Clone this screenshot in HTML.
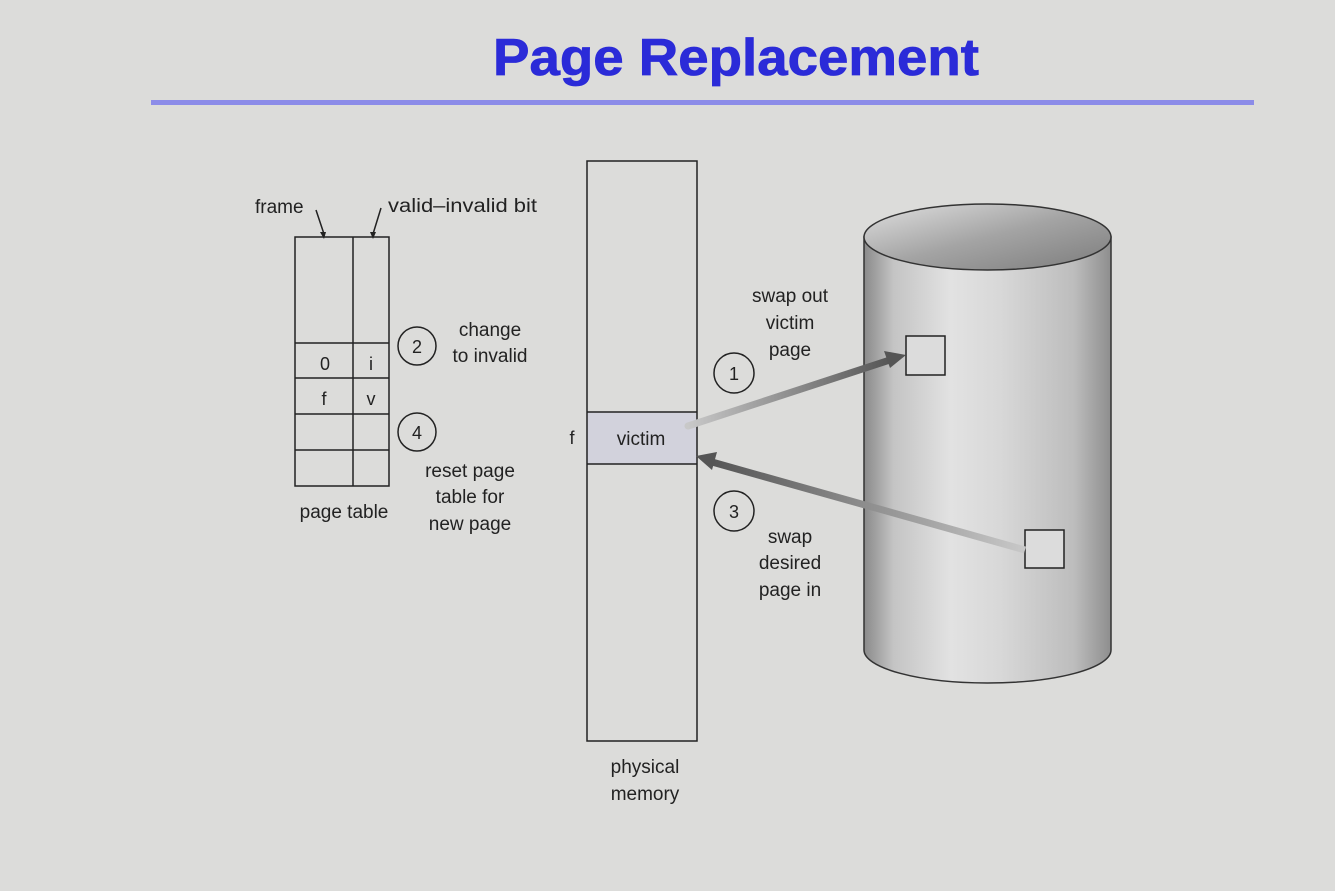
<!DOCTYPE html>
<html><head><meta charset="utf-8"><style>
html,body{margin:0;padding:0;background:#dcdcda;}
svg{display:block;}
text{font-family:"Liberation Sans",Arial,sans-serif;fill:#222;}
</style></head><body>
<svg width="1335" height="891" viewBox="0 0 1335 891" xmlns="http://www.w3.org/2000/svg">
<defs>
<linearGradient id="body" x1="0" x2="1" y1="0" y2="0">
<stop offset="0" stop-color="#8a8a8a"/>
<stop offset="0.12" stop-color="#c4c4c4"/>
<stop offset="0.35" stop-color="#e2e2e2"/>
<stop offset="0.55" stop-color="#d8d8d8"/>
<stop offset="0.85" stop-color="#bdbdbd"/>
<stop offset="1" stop-color="#8e8e8e"/>
</linearGradient>
<linearGradient id="top" x1="0" x2="1" y1="0" y2="1">
<stop offset="0" stop-color="#e0e0e0"/>
<stop offset="0.5" stop-color="#a4a4a4"/>
<stop offset="1" stop-color="#7c7c7c"/>
</linearGradient>
<linearGradient id="a1" x1="0" x2="1"><stop offset="0" stop-color="#c8c8c8"/><stop offset="1" stop-color="#555"/></linearGradient>
<linearGradient id="a3" x1="1" x2="0"><stop offset="0" stop-color="#c8c8c8"/><stop offset="1" stop-color="#555"/></linearGradient>
</defs>
<rect width="1335" height="891" fill="#dcdcda"/>
<text x="493" y="75" font-size="52" font-weight="bold" textLength="486" lengthAdjust="spacingAndGlyphs" style="fill:#2b2bd8;stroke:#2b2bd8;stroke-width:0.8">Page Replacement</text>
<rect x="151" y="100" width="1103" height="5" fill="#8c8ce8"/>

<!-- page table -->
<g stroke="#222" stroke-width="1.5" fill="none">
<rect x="295" y="237" width="94" height="249"/>
<line x1="353" y1="237" x2="353" y2="486"/>
<line x1="295" y1="343" x2="389" y2="343"/>
<line x1="295" y1="378" x2="389" y2="378"/>
<line x1="295" y1="414" x2="389" y2="414"/>
<line x1="295" y1="450" x2="389" y2="450"/>
<path d="M316 210 L324 234 M381 208 L373 234"/>
<circle cx="417" cy="346" r="19"/>
<circle cx="417" cy="432" r="19"/>
</g>
<path d="M320 232 L326 232 L324 239 Z M370 232 L376 232 L373 239 Z" fill="#222"/>
<text x="255" y="213" font-size="19">frame</text>
<text x="388" y="212" font-size="19" textLength="149" lengthAdjust="spacingAndGlyphs">valid–invalid bit</text>
<text x="325" y="370" font-size="18" text-anchor="middle">0</text>
<text x="371" y="370" font-size="18" text-anchor="middle">i</text>
<text x="324" y="405" font-size="18" text-anchor="middle">f</text>
<text x="371" y="405" font-size="18" text-anchor="middle">v</text>
<text x="417" y="353" font-size="18" text-anchor="middle">2</text>
<text x="417" y="439" font-size="18" text-anchor="middle">4</text>
<text x="490" y="336" font-size="19" text-anchor="middle">change</text>
<text x="490" y="362" font-size="19" text-anchor="middle">to invalid</text>
<text x="470" y="477" font-size="19" text-anchor="middle">reset page</text>
<text x="470" y="503" font-size="19" text-anchor="middle">table for</text>
<text x="470" y="530" font-size="19" text-anchor="middle">new page</text>
<text x="344" y="518" font-size="19" text-anchor="middle">page table</text>

<!-- memory -->
<rect x="587" y="412" width="110" height="52" fill="#d2d2dc"/>
<g stroke="#222" stroke-width="1.5" fill="none">
<rect x="587" y="161" width="110" height="580"/>
<line x1="587" y1="412" x2="697" y2="412"/>
<line x1="587" y1="464" x2="697" y2="464"/>
</g>
<text x="641" y="445" font-size="19" text-anchor="middle">victim</text>
<text x="572" y="444" font-size="18" text-anchor="middle">f</text>
<text x="645" y="773" font-size="19" text-anchor="middle">physical</text>
<text x="645" y="800" font-size="19" text-anchor="middle">memory</text>

<!-- cylinder -->
<path d="M864 237 L864 650 A123.5 33 0 0 0 1111 650 L1111 237 Z" fill="url(#body)" stroke="#333" stroke-width="1.5"/>
<ellipse cx="987.5" cy="237" rx="123.5" ry="33" fill="url(#top)" stroke="#333" stroke-width="1.5"/>
<rect x="906" y="336" width="39" height="39" fill="#dcdcdc" stroke="#222" stroke-width="1.5"/>
<rect x="1025" y="530" width="39" height="38" fill="#dcdcdc" stroke="#222" stroke-width="1.5"/>

<!-- arrows -->
<line x1="688" y1="426" x2="890" y2="360" stroke="url(#a1)" stroke-width="7" stroke-linecap="round"/>
<path d="M906 355 L884 351 L890 368 Z" fill="#555"/>
<line x1="1025" y1="550" x2="712" y2="462" stroke="url(#a3)" stroke-width="7"/>
<path d="M696 456 L717 452 L712 470 Z" fill="#555"/>
<g stroke="#222" stroke-width="1.5" fill="none">
<circle cx="734" cy="373" r="20"/>
<circle cx="734" cy="511" r="20"/>
</g>
<text x="734" y="380" font-size="18" text-anchor="middle">1</text>
<text x="734" y="518" font-size="18" text-anchor="middle">3</text>
<text x="790" y="302" font-size="19" text-anchor="middle">swap out</text>
<text x="790" y="329" font-size="19" text-anchor="middle">victim</text>
<text x="790" y="356" font-size="19" text-anchor="middle">page</text>
<text x="790" y="543" font-size="19" text-anchor="middle">swap</text>
<text x="790" y="569" font-size="19" text-anchor="middle">desired</text>
<text x="790" y="596" font-size="19" text-anchor="middle">page in</text>
</svg>
</body></html>
